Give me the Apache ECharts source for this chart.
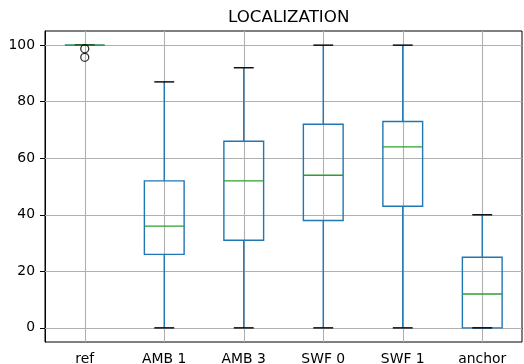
<!DOCTYPE html>
<html>
<head>
<meta charset="utf-8">
<script src="https://cdn.jsdelivr.net/npm/echarts@6/dist/echarts.min.js"></script>
<style>html,body{margin:0;padding:0;background:#fff}#c{width:524px;height:364px}</style>
</head>
<body>
<div id="c"></div>
<script>
var categories = ['ref', 'AMB 1', 'AMB 3', 'SWF 0', 'SWF 1', 'anchor'];
var whiskerLow = [100, 0, 0, 0, 0, 0];
var q1 = [100, 26, 31, 38, 43, 0];
var median = [100, 36, 52, 54, 64, 12];
var q3 = [100, 52, 66, 72, 73, 25];
var whiskerHigh = [100, 87, 92, 100, 100, 40];
var outlierCats = ['ref', 'ref'];
var outlierVals = [98.7, 95.7];
var yTicks = [0, 20, 40, 60, 80, 100];

var boxData = categories.map(function (c, i) {
  return [i, whiskerLow[i], q1[i], median[i], q3[i], whiskerHigh[i]];
});
var outlierData = outlierCats.map(function (c, i) { return [c, outlierVals[i]]; });

var BLUE = '#1f77b4', GREEN = '#2ca02c', LW = 1.4;
var FONT = 'DejaVu Sans';

function renderBox(params, api) {
  var x = api.value(0);
  var band = api.size([1, 0])[0];
  var bw = band * 0.5;
  var cw = bw * 0.5;
  var pLow = api.coord([x, api.value(1)]);
  var pQ1 = api.coord([x, api.value(2)]);
  var pMed = api.coord([x, api.value(3)]);
  var pQ3 = api.coord([x, api.value(4)]);
  var pHigh = api.coord([x, api.value(5)]);
  var cx = pMed[0];
  var blue = { stroke: BLUE, lineWidth: LW, fill: null };
  return {
    type: 'group',
    children: [
      { type: 'line', shape: { x1: cx, y1: pQ1[1], x2: cx, y2: pLow[1] }, style: blue },
      { type: 'line', shape: { x1: cx, y1: pQ3[1], x2: cx, y2: pHigh[1] }, style: blue },
      { type: 'rect', shape: { x: cx - bw / 2, y: pQ3[1], width: bw, height: pQ1[1] - pQ3[1] }, style: { stroke: BLUE, lineWidth: LW, fill: 'none' } },
      { type: 'line', shape: { x1: cx - cw / 2, y1: pLow[1], x2: cx + cw / 2, y2: pLow[1] }, style: { stroke: '#000', lineWidth: LW } },
      { type: 'line', shape: { x1: cx - cw / 2, y1: pHigh[1], x2: cx + cw / 2, y2: pHigh[1] }, style: { stroke: '#000', lineWidth: LW } },
      { type: 'line', shape: { x1: cx - bw / 2, y1: pMed[1], x2: cx + bw / 2, y2: pMed[1] }, style: { stroke: GREEN, lineWidth: LW } }
    ]
  };
}

var chart = echarts.init(document.getElementById('c'), null, { renderer: 'canvas' });
chart.setOption({
  animation: false,
  backgroundColor: '#fff',
  title: {
    text: 'LOCALIZATION', left: 223, top: 4,
    textStyle: { fontFamily: FONT, fontSize: 16.7, fontWeight: 'normal', color: '#000' }
  },
  grid: { left: 45, right: 2, top: 31, bottom: 22, show: true, borderColor: '#000', borderWidth: 1, backgroundColor: 'transparent', containLabel: false, outerBoundsMode: 'none' },
  xAxis: {
    type: 'category', data: categories, boundaryGap: true,
    axisLine: { show: true, lineStyle: { color: '#000', width: 1 } },
    axisTick: { show: true, alignWithLabel: true, length: 5, lineStyle: { color: '#000', width: 1 } },
    axisLabel: { fontFamily: FONT, fontSize: 13.9, color: '#000', margin: 10, interval: 0 },
    splitLine: { show: false }
  },
  yAxis: {
    type: 'value', min: -5, max: 105,
    axisLine: { show: true, lineStyle: { color: '#000', width: 1 } },
    axisTick: { show: true, length: 5, customValues: yTicks, lineStyle: { color: '#000', width: 1 } },
    axisLabel: { fontFamily: FONT, fontSize: 13.9, color: '#000', margin: 10, customValues: yTicks },
    splitLine: { show: false }
  },
  series: [
    {
      type: 'custom', z: 1, silent: true, data: [],
      renderItem: function () { return null; },
      markLine: {
        silent: true, symbol: 'none', animation: false, z: 1,
        label: { show: false },
        lineStyle: { color: '#b0b0b0', width: 1.1, type: 'solid' },
        data: yTicks.map(function (v) { return { yAxis: v }; }).concat(
          categories.map(function (c) { return { xAxis: c }; }))
      }
    },
    {
      type: 'custom', z: 3, renderItem: renderBox, data: boxData,
      encode: { x: 0, y: [1, 2, 3, 4, 5] }
    },
    {
      type: 'scatter', z: 4, data: outlierData, symbol: 'circle', symbolSize: 8,
      itemStyle: { color: 'rgba(0,0,0,0)', borderColor: '#000', borderWidth: 1.3 }
    }
  ]
});
</script>
</body>
</html>
